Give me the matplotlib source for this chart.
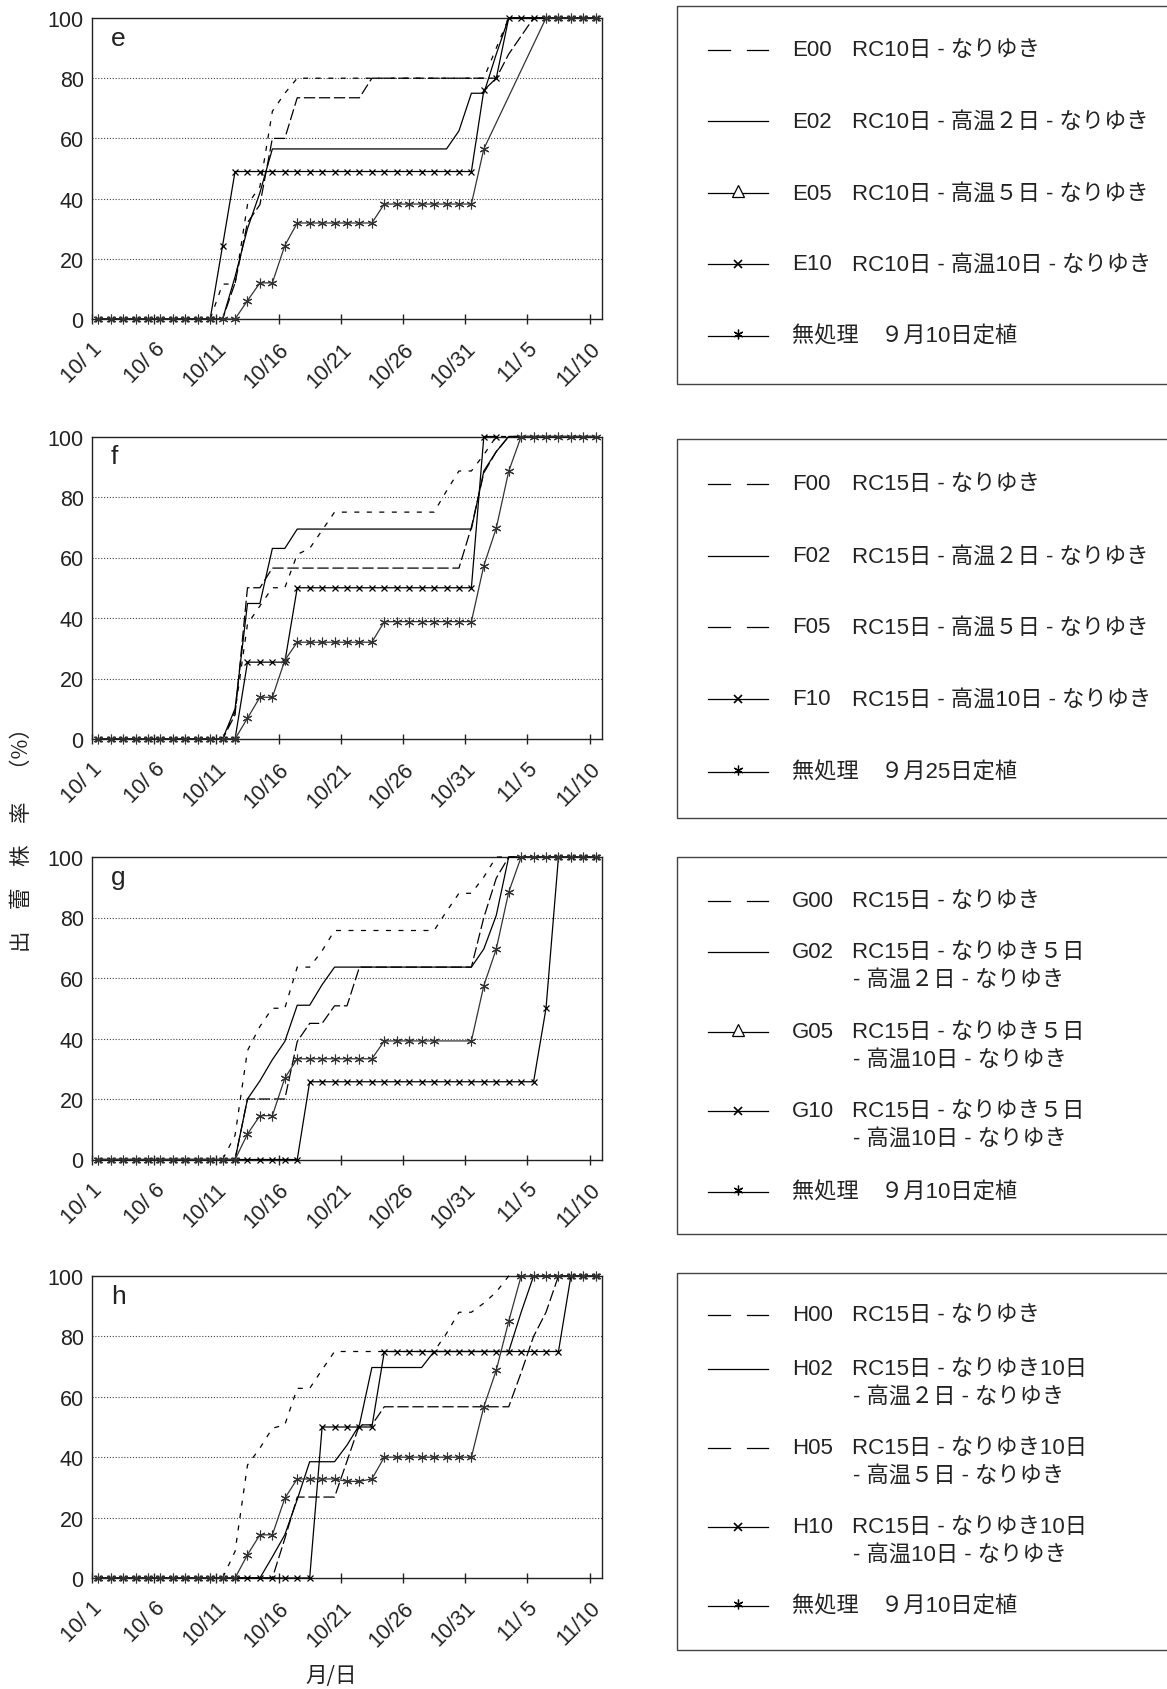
import numpy as np
import matplotlib
matplotlib.use("Agg")
import matplotlib.pyplot as plt
from matplotlib.patches import Rectangle

nan = np.nan
W, H = 1167, 1690

# ---------------- data ----------------
n_days = 41                      # 10/1 ... 11/10, one category per day
tick_labels = ['10/ 1', '10/ 6', '10/11', '10/16', '10/21', '10/26', '10/31', '11/ 5', '11/10']
y_ticks = [0, 20, 40, 60, 80, 100]

# panel e
e00 = [0]*10 + [11.6, 11.6, 38, 44, 69, 75] + [80]*15 + [80, 90] + [100]*8
e02 = [0]*11 + [14, 30, 42] + [56.5]*15 + [62.5, 75, 75, 88] + [100]*8
e05 = [0]*11 + [12, 32, 38, 60, 60] + [73.5]*6 + [80]*11 + [88, 94] + [100]*6
e10 = [0]*10 + [24.4] + [49]*20 + [76, 80] + [100]*8
e_ck = [0]*12 + [6.1, 12, 12, 24.4] + [31.9]*7 + [38.2]*8 + [56.5, nan, nan, nan, nan] + [100]*5

# panel f
f00 = [0]*11 + [9, 38, 44, 50, 50, 61, 63, 69] + [75]*9 + [82, 88.6, 88.6, 94] + [100]*9
f02 = [0]*11 + [10, 44.8, 44.8, 63, 63] + [69.4]*15 + [88.6, 95] + [100]*8
f05 = [0]*11 + [8, 50, 50] + [56.5]*16 + [70, 88, 95] + [100]*8
f10 = [0]*12 + [25.4]*4 + [50]*15 + [100, 100] + [nan]*8
f_ck = [0]*12 + [6.9, 13.8, 13.8, 26] + [32]*7 + [38.8]*8 + [57.3, 69.7, 88.5] + [100]*7

# panel g
g00 = [0]*11 + [8, 36, 44, 50, 50, 63.6, 63.6, 69] + [75.7]*9 + [82, 88, 88, 93.4] + [100]*9
g02 = [0]*12 + [20, 26, 33, 39, 51, 51, 57.8] + [63.6]*12 + [69.6, 80.7] + [100]*8
g05 = [0]*12 + [20, 20, 20, 20, 39, 45, 45, 50.8, 50.8] + [63.6]*10 + [80, 93] + [100]*8
g10 = [0]*17 + [25.7]*19 + [50] + [100]*4
g_ck = [0]*12 + [8.4, 14.5, 14.5, 26.9] + [33.3]*7 + [39.2]*5 + [nan, nan] + [39.2] + [57.5, 69.6, 88.4] + [100]*7

# panel h
h00 = [0]*11 + [8.8, 37.4, 43, 49.6, 50.7, 62.8, 62.8, 69] + [75]*9 + [81, 88, 88, 91, 94.7] + [100]*8
h02 = [0]*14 + [7, 14.3, 26, 38.5, 38.5, 38.5, 44, 50.7] + [69.7]*5 + [75]*7 + [88] + [100]*6
h05 = [0]*15 + [13] + [26.8]*4 + [38.7] + [50.7, 50.7] + [56.7]*11 + [68, 80, 88] + [100]*4
h10 = [0]*18 + [50]*5 + [75]*15 + [100]*3
h_ck = [0]*12 + [7.7, 14.3, 14.3, 26.4] + [32.8]*4 + [32, 32, 32.8] + [40]*8 + [56.7, 68.8, 85] + [100]*7

panel_letters = ['e', 'f', 'g', 'h']
panel_series = [
    [e00, e02, e05, e10, e_ck],
    [f00, f02, f05, f10, f_ck],
    [g00, g02, g05, g10, g_ck],
    [h00, h02, h05, h10, h_ck],
]

legend_entries = [
    [('dash', 'E00', ['RC10日 - なりゆき']),
     ('solid', 'E02', ['RC10日 - 高温２日 - なりゆき']),
     ('tri', 'E05', ['RC10日 - 高温５日 - なりゆき']),
     ('x', 'E10', ['RC10日 - 高温10日 - なりゆき']),
     ('star', '無処理　９月10日定植', [])],
    [('dash', 'F00', ['RC15日 - なりゆき']),
     ('solid', 'F02', ['RC15日 - 高温２日 - なりゆき']),
     ('dash', 'F05', ['RC15日 - 高温５日 - なりゆき']),
     ('x', 'F10', ['RC15日 - 高温10日 - なりゆき']),
     ('star', '無処理　９月25日定植', [])],
    [('dash', 'G00', ['RC15日 - なりゆき']),
     ('solid', 'G02', ['RC15日 - なりゆき５日', '- 高温２日 - なりゆき']),
     ('tri', 'G05', ['RC15日 - なりゆき５日', '- 高温10日 - なりゆき']),
     ('x', 'G10', ['RC15日 - なりゆき５日', '- 高温10日 - なりゆき']),
     ('star', '無処理　９月10日定植', [])],
    [('dash', 'H00', ['RC15日 - なりゆき']),
     ('solid', 'H02', ['RC15日 - なりゆき10日', '- 高温２日 - なりゆき']),
     ('dash', 'H05', ['RC15日 - なりゆき10日', '- 高温５日 - なりゆき']),
     ('x', 'H10', ['RC15日 - なりゆき10日', '- 高温10日 - なりゆき']),
     ('star', '無処理　９月10日定植', [])],
]

# ---------------- layout / style ----------------
FAM = ['Liberation Sans', 'Noto Sans CJK JP', 'DejaVu Sans']
CJK = ['Noto Sans CJK JP', 'DejaVu Sans']
plt.rcParams['font.family'] = FAM
TXT = '#222222'

panel_px = [(19, 320), (437.5, 740), (858, 1160.5), (1277, 1579)]
legend_px = [(7, 385), (440, 819), (858, 1235), (1274, 1651)]
legend_rows = [
    [51, 122, 194, 265, 337],
    [485, 557, 628, 700, 773],
    [902, 953, 1033, 1112, 1193],
    [1316, 1370, 1449, 1528, 1607],
]
AX_L, AX_R = 92, 602

styles = [
    dict(color='k', lw=0.9, ls=(0, (4, 6))),
    dict(color='k', lw=0.9, ls='-'),
    dict(color='k', lw=0.9, ls=(0, (9, 3))),
    dict(color='k', lw=0.9, ls='-', marker='x', ms=5, mew=0.9),
    dict(color='#333333', lw=0.9, ls='-', marker=(6, 2, 0), ms=7, mew=0.8),
]

fig = plt.figure(figsize=(W / 100, H / 100), dpi=100)

x = np.arange(n_days) + 0.5
for p, (top, bot) in enumerate(panel_px):
    ax = fig.add_axes([AX_L / W, 1 - bot / H, (AX_R - AX_L) / W, (bot - top) / H])
    for vals, st in zip(panel_series[p], styles):
        v = np.array(vals, dtype=float)
        m = ~np.isnan(v)
        ax.plot(x[m], v[m], clip_on=False, zorder=3, **st)
    ax.set_xlim(0, n_days)
    ax.set_ylim(0, 100)
    ax.set_yticks(y_ticks)
    ax.set_yticklabels([str(t) for t in y_ticks], fontsize=15.5, color=TXT)
    ax.tick_params(axis='y', length=0, pad=6)
    for gy in y_ticks[1:-1]:
        ax.axhline(gy, color='#444444', lw=0.8, ls=(0, (1, 1.6)), zorder=1)
    ax.set_xticks(np.arange(0, n_days, 5))
    ax.set_xticklabels(tick_labels, rotation=45, ha='right', rotation_mode='anchor',
                       fontsize=15.5, color=TXT)
    ax.tick_params(axis='x', which='major', direction='inout', length=7.5, width=1,
                   color='#222222', pad=10)
    for s in ax.spines.values():
        s.set_color('#222222')
        s.set_linewidth(1.0)
    ax.text(0.037, 0.935, panel_letters[p], transform=ax.transAxes, fontsize=19,
            va='center', ha='left', color=TXT)

# ---------------- legends (drawn boxes) ----------------
lax = fig.add_axes([0, 0, 1, 1], zorder=5)
lax.set_xlim(0, W)
lax.set_ylim(H, 0)
lax.axis('off')

LX0, LX1, LXM = 708, 768, 738
for p, (top, bot) in enumerate(legend_px):
    lax.add_patch(Rectangle((677, top), 600, bot - top, fill=False,
                            edgecolor='#444444', lw=1.0, clip_on=False))
    for (kind, code, desc), yy in zip(legend_entries[p], legend_rows[p]):
        if kind == 'dash':
            lax.plot([708, 730], [yy, yy], color='k', lw=0.9)
            lax.plot([747, 768], [yy, yy], color='k', lw=0.9)
        else:
            lax.plot([LX0, LX1], [yy, yy], color='k', lw=0.9)
            if kind == 'tri':
                lax.plot([LXM], [yy - 2], marker='^', ms=8, mfc='white', mec='k', mew=0.9)
            elif kind == 'x':
                lax.plot([LXM], [yy], marker='x', ms=6, color='k', mew=1.2)
            elif kind == 'star':
                lax.plot([LXM], [yy - 2], marker=(6, 2, 0), ms=7, color='k', mew=0.9)
        lax.text(792, yy, code, fontsize=16, va='center', ha='left', color=TXT, family=FAM)
        for k, line in enumerate(desc):
            lax.text(852 if k == 0 else 853, yy + 27 * k, line, fontsize=16,
                     va='center', ha='left', color=TXT, family=FAM)

# axis titles
lax.text(22, 835, '出　蕾　株　率　（%）', rotation=90, fontsize=15.5, va='center',
         ha='center', color=TXT, family=CJK)
lax.text(331, 1676, '月/日', fontsize=15.5, va='center', ha='center', color=TXT, family=CJK)

fig.savefig('out.png', dpi=100)
